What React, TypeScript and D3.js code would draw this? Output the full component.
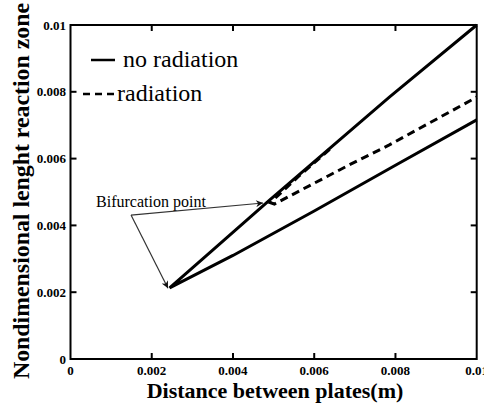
import React from "react";
import * as d3 from "d3";

const W = 484;
const H = 406;

// axis ticks
const xTicks = [0, 0.002, 0.004, 0.006, 0.008, 0.01];
const xTickLabels = ["0", "0.002", "0.004", "0.006", "0.008", "0.01"];
const yTicks = [0, 0.002, 0.004, 0.006, 0.008, 0.01];
const yTickLabels = ["0", "0.002", "0.004", "0.006", "0.008", "0.01"];

// no radiation: upper branch (from right) -> turning point -> lower branch
const noRadiationX = [0.01, 0.00785, 0.0049, 0.0035, 0.00244, 0.004, 0.006, 0.008, 0.01];
const noRadiationY = [0.01, 0.00784, 0.00476, 0.00326, 0.00213, 0.0031, 0.00443, 0.0058, 0.00716];

// radiation: upper branch end -> nose -> lower branch
const radiationX = [0.00638, 0.0056, 0.00492, 0.00502, 0.00686, 0.00785, 0.01];
const radiationY = [0.00628, 0.00545, 0.00468, 0.00464, 0.00581, 0.00641, 0.00784];

// annotation: origin of arrows and the two bifurcation points
const arrowFrom = [0.00149, 0.00431];
const bifurcationX = [0.00474, 0.0024];
const bifurcationY = [0.00467, 0.00212];
const annotationLabel = "Bifurcation point";
const labelPos = [0.00063, 0.00456];

const legendLabels = ["no radiation", "radiation"];

const serif = "Liberation Serif, Times New Roman, serif";

export default function App() {
  const x = d3.scaleLinear().domain([0, 0.01]).range([70.5, 476.7]);
  const y = d3.scaleLinear().domain([0, 0.01]).range([359, 25]);

  const mk = (xs: number[], ys: number[]) =>
    d3
      .line<number>()
      .x((d) => x(xs[d]))
      .y((d) => y(ys[d]))(xs.map((_, i) => i)) || "";

  const noRadPath = mk(noRadiationX, noRadiationY);
  const radPath = mk(radiationX, radiationY);

  const [x0, x1] = x.range();
  const [y0, y1] = y.range();
  const tickLen = 6;
  const ts = { fontFamily: serif };

  return (
    <svg
      width={W}
      height={H}
      style={{ position: "absolute", left: 0, top: 0, background: "#fff", fontFamily: serif }}
    >
      <defs>
        <marker
          id="ah"
          viewBox="0 0 10 10"
          refX="10"
          refY="5"
          markerWidth="9"
          markerHeight="7"
          markerUnits="userSpaceOnUse"
          orient="auto"
        >
          <path d="M0,0 L10,5 L0,10 L3,5 Z" fill="#111" />
        </marker>
      </defs>
      <rect width={W} height={H} fill="#fff" />

      {/* curves */}
      <path d={noRadPath} fill="none" stroke="#000" strokeWidth={3} strokeLinejoin="miter" />
      <path d={radPath} fill="none" stroke="#000" strokeWidth={3} strokeDasharray="8,5" />

      {/* frame */}
      <rect x={x0} y={y1} width={x1 - x0} height={y0 - y1} fill="none" stroke="#000" strokeWidth={2} />

      {/* x ticks */}
      {xTicks.map((t, i) => (
        <g key={"xt" + i}>
          {i > 0 && i < xTicks.length - 1 && (
            <>
              <line x1={x(t)} x2={x(t)} y1={y0} y2={y0 - tickLen} stroke="#000" strokeWidth={2} />
              <line x1={x(t)} x2={x(t)} y1={y1} y2={y1 + tickLen} stroke="#000" strokeWidth={2} />
            </>
          )}
          <text x={x(t)} y={375} textAnchor="middle" fontSize={13} fontWeight="bold" style={ts}>
            {xTickLabels[i]}
          </text>
        </g>
      ))}

      {/* y ticks */}
      {yTicks.map((t, i) => (
        <g key={"yt" + i}>
          {i > 0 && i < yTicks.length - 1 && (
            <>
              <line x1={x0} x2={x0 + tickLen} y1={y(t)} y2={y(t)} stroke="#000" strokeWidth={2} />
              <line x1={x1} x2={x1 - tickLen} y1={y(t)} y2={y(t)} stroke="#000" strokeWidth={2} />
            </>
          )}
          <text x={66} y={y(t) + 4.5} textAnchor="end" fontSize={13} fontWeight="bold" style={ts}>
            {yTickLabels[i]}
          </text>
        </g>
      ))}

      {/* axis titles */}
      <text x={275} y={398} textAnchor="middle" fontSize={22} fontWeight="bold" style={ts}>
        Distance between plates(m)
      </text>
      <text
        transform={`translate(29,379) rotate(-90)`}
        textAnchor="start"
        fontSize={22.5}
        fontWeight="bold"
        textLength={376}
        lengthAdjust="spacingAndGlyphs"
        style={ts}
      >
        Nondimensional lenght reaction zone
      </text>

      {/* legend */}
      <line x1={91} x2={115} y1={60} y2={60} stroke="#000" strokeWidth={2.5} />
      <text x={123} y={67} fontSize={24} style={ts}>
        {legendLabels[0]}
      </text>
      <line x1={83} x2={115} y1={94} y2={94} stroke="#000" strokeWidth={2.5} strokeDasharray="7,5" />
      <text x={117} y={101} fontSize={24} style={ts}>
        {legendLabels[1]}
      </text>

      {/* annotation */}
      <text x={x(labelPos[0])} y={y(labelPos[1])} fontSize={16} style={ts}>
        {annotationLabel}
      </text>
      {bifurcationX.map((bx, i) => (
        <line
          key={"ar" + i}
          x1={x(arrowFrom[0])}
          y1={y(arrowFrom[1])}
          x2={x(bx)}
          y2={y(bifurcationY[i])}
          stroke="#333"
          strokeWidth={1.2}
          markerEnd="url(#ah)"
        />
      ))}
    </svg>
  );
}
